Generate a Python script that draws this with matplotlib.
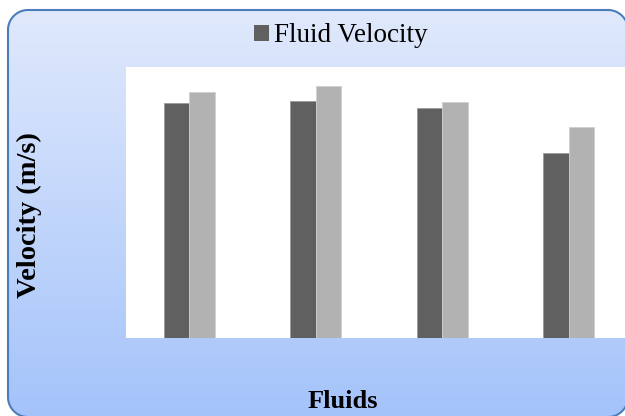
import numpy as np
import matplotlib
matplotlib.use("Agg")
import matplotlib.pyplot as plt
from matplotlib.patches import Rectangle
from matplotlib.lines import Line2D

categories = ["Fluid 1", "Fluid 2", "Fluid 3", "Fluid 4"]
series_a = [0.520, 0.525, 0.509, 0.410]
series_b = [0.545, 0.558, 0.523, 0.467]
legend_label = "Fluid Velocity"
xlabel = "Fluids"
ylabel = "Velocity (m/s)"

W, H = 625, 416
fig = plt.figure(figsize=(W / 100, H / 100), dpi=100)
fig.patch.set_facecolor("white")

# background rounded gradient box, built in pixel space (y down)
bx0, by0, bx1, by1, r = 8.0, 10.0, 628.0, 417.0, 20.0
yy, xx = np.mgrid[0:H, 0:W] + 0.5
cx = np.clip(xx, bx0 + r, bx1 - r)
cy = np.clip(yy, by0 + r, by1 - r)
inside = ((xx - cx) ** 2 + (yy - cy) ** 2 <= r ** 2) & (xx >= bx0) & (xx <= bx1) & (yy >= by0) & (yy <= by1)
top = np.array([224, 233, 252]) / 255
bot = np.array([164, 195, 250]) / 255
tt = np.clip((yy - by0) / (by1 - by0), 0, 1)[..., None]
rgb = top * (1 - tt) + bot * tt
img = np.ones((H, W, 4))
img[..., :3] = np.where(inside[..., None], rgb, 1.0)
fig.figimage(img[::-1], xo=0, yo=0, origin="lower", zorder=-5)

# border as dense polyline (pixel coords, y down -> converted)
pts = []
corners = [(bx1 - r, by0 + r, -90, 0), (bx1 - r, by1 - r, 0, 90),
           (bx0 + r, by1 - r, 90, 180), (bx0 + r, by0 + r, 180, 270)]
for ccx, ccy, a0, a1 in corners:
    a = np.radians(np.linspace(a0, a1, 30))
    pts.extend(zip(ccx + r * np.cos(a), ccy + r * np.sin(a)))
pts.append(pts[0])
pts = np.array(pts)
border = Line2D(pts[:, 0] / W, 1 - pts[:, 1] / H, transform=fig.transFigure,
                color="#4a7ebb", linewidth=1.5, zorder=-4)
fig.lines.append(border)

ax = fig.add_axes([126 / W, 1 - 338 / H, (632 - 126) / W, (338 - 67) / H])
ax.set_facecolor("white")
x = np.arange(len(categories))
w = 0.2
ax.bar(x - w / 2, series_a, width=w, color="#606060", edgecolor="#9a9a9a", linewidth=0.6)
ax.bar(x + w / 2, series_b, width=w, color="#b2b2b2", edgecolor="#cfcfcf", linewidth=0.6)
ax.set_xlim(-0.5, 3.5)
ax.set_ylim(0, 0.6)
ax.set_xticks([])
ax.set_yticks([])
for s in ax.spines.values():
    s.set_visible(False)

fig.text(343 / W, 1 - 401 / H, xlabel, ha="center", va="center",
         family="Liberation Serif", fontweight="bold", fontsize=19)
fig.text(29 / W, 1 - 215 / H, ylabel, ha="center", va="center", rotation=90,
         family="Liberation Serif", fontweight="bold", fontsize=20.5)

handle = Rectangle((0, 0), 1, 1, facecolor="#606060", edgecolor="none")
fig.legend([handle], [legend_label], loc="center", bbox_to_anchor=(341 / W, 1 - 36 / H),
           frameon=False, prop={"family": "Liberation Serif", "size": 19.5},
           handlelength=0.55, handleheight=0.55, handletextpad=0.2, borderpad=0)

fig.savefig("out.png", dpi=100)
